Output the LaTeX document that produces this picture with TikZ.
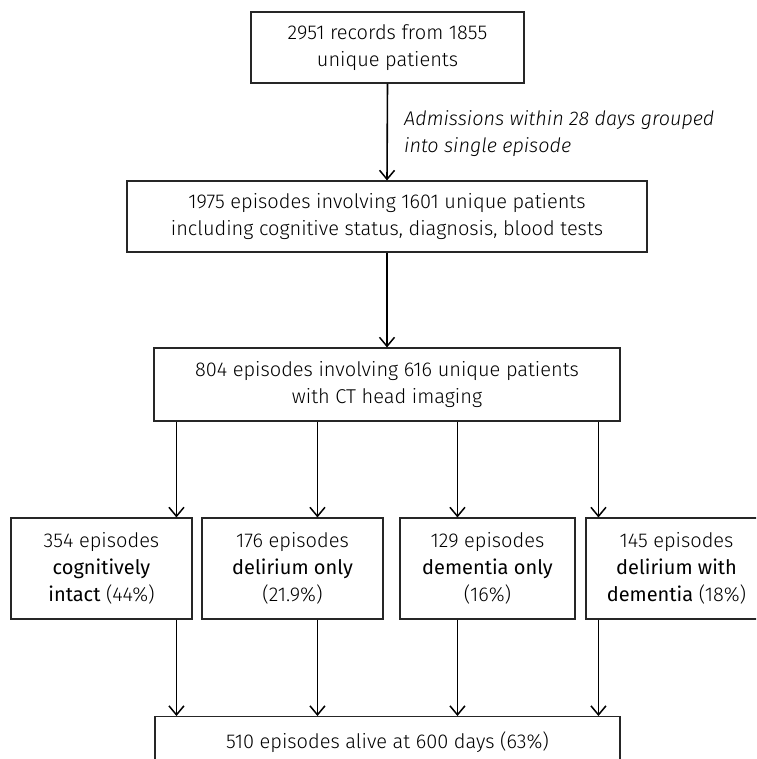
\documentclass[tikz,border=0pt]{standalone}
\usepackage{fontspec}
\setmainfont{Fira Sans Light}[BoldFont={Fira Sans}, ItalicFont={Fira Sans Light Italic}]
\usetikzlibrary{arrows.meta,calc}
\begin{document}
\begin{tikzpicture}[x=1pt,y=-1pt,
  box/.style={draw=black!85, line width=1.1pt, align=center, inner sep=0pt, font=\fontsize{20}{27}\selectfont},
  arr/.style={line width=1.6pt, -{Straight Barb[length=9pt,width=15pt,line width=1.5pt]}},
  lbl/.style={font=\fontsize{19.8}{27}\selectfont\itshape, align=left, anchor=west, inner sep=0pt}]
\useasboundingbox (0,0) rectangle (756,759);
\clip (0,0) rectangle (756,759);
\node[box, minimum width=273pt, minimum height=71pt] (b1) at (387.5,47.5) {2951 records from 1855\\unique patients};
\node[box, minimum width=520pt, minimum height=71pt] (b2) at (387,216.5) {1975 episodes involving 1601 unique patients\\including cognitive status, diagnosis, blood tests};
\node[box, minimum width=466pt, minimum height=73pt] (b3) at (387,384.5) {804 episodes involving 616 unique patients\\with CT head imaging};
\node[box, minimum width=181pt, minimum height=101pt] (ra) at (101.5,568.5) {354 episodes\\\textbf{cognitively}\\\textbf{intact} (44\%)};
\node[box, minimum width=181pt, minimum height=101pt] (rb) at (292.5,568.5) {176 episodes\\\textbf{delirium only}\\(21.9\%)};
\node[box, minimum width=175pt, minimum height=101pt] (rc) at (487.5,568.5) {129 episodes\\\textbf{dementia only}\\(16\%)};
\node[box, minimum width=181pt, minimum height=101pt] (rd) at (676.5,568.5) {145 episodes\\\textbf{delirium with}\\\textbf{dementia} (18\%)};
\node[box, minimum width=465pt, minimum height=74pt, anchor=north] (b5) at (387.5,716) {510 episodes alive at 600 days (63\%)\\\phantom{x}};
\draw[arr] (b1.south) -- (b2.north);
\node[lbl] (l1) at (404,134) {Admissions within 28 days grouped\\into single episode};
\draw[arr] (b2.south) -- (b3.north);
\coordinate (p1) at ($(b3.south west)+(23,0)$);
\coordinate (p2) at ($(b3.south west)+(164,0)$);
\coordinate (p3) at ($(b3.south west)+(304,0)$);
\coordinate (p4) at ($(b3.south west)+(445,0)$);
\draw[arr] (p1) -- (p1 |- ra.north);
\draw[arr] (p2) -- (p2 |- rb.north);
\draw[arr] (p3) -- (p3 |- rc.north);
\draw[arr] (p4) -- (p4 |- rd.north);
\draw[arr] (p1 |- ra.south) -- (p1 |- b5.north);
\draw[arr] (p2 |- rb.south) -- (p2 |- b5.north);
\draw[arr] (p3 |- rc.south) -- (p3 |- b5.north);
\draw[arr] (p4 |- rd.south) -- (p4 |- b5.north);
\end{tikzpicture}
\end{document}
